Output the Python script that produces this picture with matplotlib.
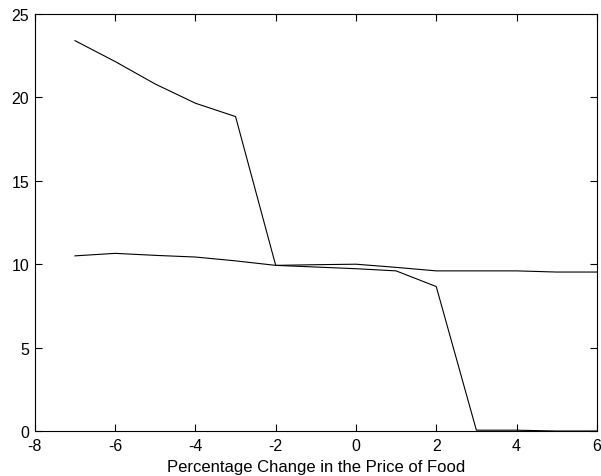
import matplotlib
matplotlib.use("Agg")
import matplotlib.pyplot as plt

plt.rcParams["font.family"] = ["Liberation Sans", "DejaVu Sans"]
plt.rcParams["axes.unicode_minus"] = False

x = [-7, -6, -5, -4, -3, -2, -1, 0, 1, 2, 3, 4, 5, 6]
series_a = [23.4, 22.15, 20.8, 19.65, 18.85, 9.93, 9.97, 10.0, 9.81, 9.6, 9.6, 9.6, 9.53, 9.53]
series_b = [10.5, 10.65, 10.53, 10.43, 10.2, 9.93, 9.83, 9.73, 9.6, 8.66, 0.05, 0.05, 0.0, 0.0]

fig = plt.figure(figsize=(6.01, 4.77), dpi=100)
ax = fig.add_axes([0.058, 0.0943, 0.935, 0.8743])

ax.plot(x, series_a, color="black", linewidth=0.8)
ax.plot(x, series_b, color="black", linewidth=0.8)

ax.set_xlim(-8, 6)
ax.set_ylim(0, 25)
ax.set_xticks(range(-8, 7, 2))
ax.set_yticks(range(0, 26, 5))
ax.tick_params(direction="in", top=True, right=True, length=5, width=0.8, labelsize=11.5)
ax.tick_params(axis="x", pad=5)
ax.tick_params(axis="y", pad=4)
for s in ax.spines.values():
    s.set_linewidth(0.8)
ax.set_xlabel("Percentage Change in the Price of Food", fontsize=12, labelpad=4)

fig.savefig("out.png", dpi=100)
